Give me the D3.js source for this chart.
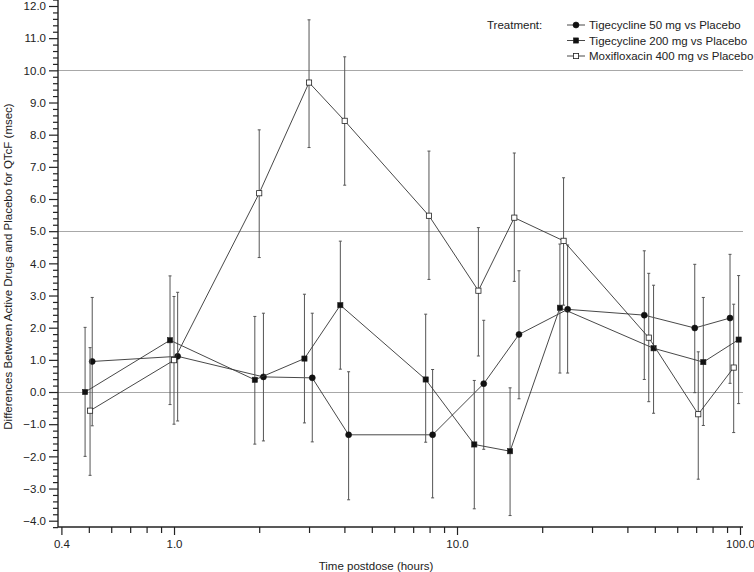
<!DOCTYPE html>
<html>
<head>
<meta charset="utf-8">
<script src="https://cdn.jsdelivr.net/npm/d3@7"></script>
<style>
  html, body { margin: 0; padding: 0; background: #fff; }
  svg { display: block; }
  text { font-family: "Liberation Sans", Arial, Helvetica, sans-serif; fill: #222; }
</style>
</head>
<body>
<svg id="chart" width="754" height="572"></svg>
<script>
// ---------------- data ----------------
const seriesNames = ["Tigecycline 50 mg vs Placebo", "Tigecycline 200 mg vs Placebo", "Moxifloxacin 400 mg vs Placebo"];

const tige50Time  = [0.514, 1.03, 2.07, 3.08, 4.14, 8.2, 12.43, 16.56, 24.6, 45.9, 69.2, 92.2];
const tige50Mean  = [0.95, 1.11, 0.47, 0.44, -1.33, -1.33, 0.26, 1.79, 2.57, 2.39, 1.99, 2.30];
const tige50Low   = [-1.05, -0.90, -1.52, -1.55, -3.35, -3.29, -1.78, -0.21, 0.59, 0.39, -0.02, 0.27];
const tige50High  = [2.94, 3.10, 2.45, 2.45, 0.63, 0.70, 2.23, 3.77, 4.57, 4.39, 3.97, 4.28];

const tige200Time = [0.485, 0.968, 1.93, 2.89, 3.87, 7.75, 11.51, 15.4, 23.1, 49.5, 74.2, 98.9];
const tige200Mean = [0.00, 1.61, 0.38, 1.04, 2.70, 0.39, -1.63, -1.84, 2.62, 1.36, 0.93, 1.63];
const tige200Low  = [-2.00, -0.39, -1.62, -0.96, 0.71, -1.56, -3.63, -3.84, 0.59, -0.66, -1.04, -0.36];
const tige200High = [2.01, 3.61, 2.35, 3.04, 4.69, 2.42, 0.36, 0.13, 4.60, 3.32, 2.94, 3.62];

const moxiTime    = [0.505, 1.0, 2.0, 3.0, 4.01, 7.96, 11.9, 15.94, 23.8, 47.6, 71.2, 95.0];
const moxiMean    = [-0.58, 0.99, 6.18, 9.62, 8.43, 5.48, 3.15, 5.42, 4.70, 1.69, -0.69, 0.76];
const moxiLow     = [-2.59, -1.00, 4.18, 7.60, 6.43, 3.50, 1.12, 3.44, 2.70, -0.30, -2.71, -1.26];
const moxiHigh    = [1.38, 2.97, 8.15, 11.57, 10.42, 7.49, 5.11, 7.43, 6.66, 3.69, 1.25, 2.73];

const yMajorTicks = [-4, -3, -2, -1, 0, 1, 2, 3, 4, 5, 6, 7, 8, 9, 10, 11, 12];
const xLabelTicks = [0.4, 1, 10, 100];
const xMinorTicks = [0.5, 0.6, 0.7, 0.8, 0.9, 2, 3, 4, 5, 6, 7, 8, 9, 20, 30, 40, 50, 60, 70, 80, 90];
const refLines = [0, 5, 10];

// ---------------- layout ----------------
const svg = d3.select("#chart");
const axisX0 = 58, axisX1 = 743, axisY = 527, axisTop = 0;

const x = d3.scaleLog().domain([0.4, 100]).range([61.4, 740]);
const y = d3.scaleLinear().domain([-4, 12]).range([520.7, 6]);

const fmt = d3.format(".1f");

// reference lines
svg.append("g").selectAll("line").data(refLines).join("line")
  .attr("x1", axisX0).attr("x2", axisX1)
  .attr("y1", d => Math.round(y(d)) + 0.5).attr("y2", d => Math.round(y(d)) + 0.5)
  .attr("stroke", "#a8a8a8").attr("stroke-width", 1);

// y axis (major + minor)
const yMinor = d3.range(-4.2, 12.2001, 0.2).map(v => +v.toFixed(1)).filter(v => !yMajorTicks.includes(v));
const gy = svg.append("g").attr("transform", `translate(${axisX0},0)`);
gy.call(d3.axisLeft(y).tickValues(yMajorTicks).tickSize(9).tickPadding(3).tickFormat(fmt))
  .call(g => g.select(".domain").remove());
gy.append("g").call(d3.axisLeft(y).tickValues(yMinor).tickSize(5).tickFormat(""))
  .call(g => g.select(".domain").remove());
gy.selectAll("line").attr("stroke", "#222").attr("stroke-width", 1.2);
gy.selectAll("text").attr("font-size", 11.5).attr("fill", "#222")
  .style("font-family", '"Liberation Sans", Arial, sans-serif');

// x axis (labelled + minor)
const gx = svg.append("g").attr("transform", `translate(0,${axisY})`);
gx.call(d3.axisBottom(x).tickValues(xLabelTicks).tickSize(8).tickPadding(5).tickFormat(d => d === 0.4 ? "0.4" : fmt(d)))
  .call(g => g.select(".domain").remove());
gx.append("g").call(d3.axisBottom(x).tickValues(xMinorTicks).tickSize(6).tickFormat(""))
  .call(g => g.select(".domain").remove());
gx.selectAll("line").attr("stroke", "#222").attr("stroke-width", 1.2);
gx.selectAll("text").attr("font-size", 11.5).attr("fill", "#222")
  .style("font-family", '"Liberation Sans", Arial, sans-serif');

// axis lines
svg.append("line").attr("x1", axisX0).attr("x2", axisX0).attr("y1", axisTop).attr("y2", axisY)
  .attr("stroke", "#222").attr("stroke-width", 1.4);
svg.append("line").attr("x1", axisX0).attr("x2", axisX1).attr("y1", axisY).attr("y2", axisY)
  .attr("stroke", "#222").attr("stroke-width", 1.4);

// axis titles
svg.append("text").attr("x", 376).attr("y", 570)
  .attr("text-anchor", "middle").attr("font-size", 11.5).text("Time postdose (hours)");
svg.append("text").attr("transform", `translate(12,${(axisTop + axisY) / 2 + 3}) rotate(-90)`)
  .attr("text-anchor", "middle").attr("font-size", 11.5)
  .text("Differences Between Active Drugs and Placebo for QTcF (msec)");

// series
const series = [
  { name: seriesNames[0], t: tige50Time, m: tige50Mean, lo: tige50Low, hi: tige50High, shape: "circle", fill: "#111" },
  { name: seriesNames[1], t: tige200Time, m: tige200Mean, lo: tige200Low, hi: tige200High, shape: "square", fill: "#111" },
  { name: seriesNames[2], t: moxiTime, m: moxiMean, lo: moxiLow, hi: moxiHigh, shape: "square", fill: "#fff" }
];

const line = d3.line().x(d => x(d.t)).y(d => y(d.m));

function drawMarker(g, s, cx, cy) {
  if (s.shape === "circle") {
    g.append("circle").attr("cx", cx).attr("cy", cy).attr("r", 3)
      .attr("fill", s.fill).attr("stroke", "#111").attr("stroke-width", 0.6);
  } else {
    g.append("rect").attr("x", cx - 2.6).attr("y", cy - 2.6).attr("width", 5.2).attr("height", 5.2)
      .attr("fill", s.fill).attr("stroke", "#222").attr("stroke-width", s.fill === "#fff" ? 0.8 : 0.6);
  }
}

series.forEach(s => {
  const pts = s.t.map((t, i) => ({ t, m: s.m[i], lo: s.lo[i], hi: s.hi[i] }));
  const g = svg.append("g");
  // error bars
  const eb = g.append("g").attr("stroke", "#555").attr("stroke-width", 1);
  eb.selectAll("line.v").data(pts).join("line").attr("class", "v")
    .attr("x1", d => x(d.t)).attr("x2", d => x(d.t))
    .attr("y1", d => y(d.lo)).attr("y2", d => y(d.hi));
  eb.selectAll("line.ct").data(pts).join("line").attr("class", "ct")
    .attr("x1", d => x(d.t) - 1.5).attr("x2", d => x(d.t) + 1.5)
    .attr("y1", d => y(d.hi)).attr("y2", d => y(d.hi));
  eb.selectAll("line.cb").data(pts).join("line").attr("class", "cb")
    .attr("x1", d => x(d.t) - 1.5).attr("x2", d => x(d.t) + 1.5)
    .attr("y1", d => y(d.lo)).attr("y2", d => y(d.lo));
  // connecting line
  g.append("path").datum(pts).attr("d", line)
    .attr("fill", "none").attr("stroke", "#333").attr("stroke-width", 0.9);
  s.g = g; s.pts = pts;
});
series.forEach(s => {
  s.pts.forEach(d => drawMarker(s.g, s, x(d.t), y(d.m)));
});

// legend
const lg = svg.append("g");
lg.append("text").attr("x", 487).attr("y", 25).attr("dy", "0.35em").attr("font-size", 11.5).text("Treatment:");
const rowY = [25, 40.5, 56];
series.forEach((s, i) => {
  const yy = rowY[i];
  lg.append("line").attr("x1", 567).attr("x2", 585).attr("y1", yy).attr("y2", yy)
    .attr("stroke", "#333").attr("stroke-width", 0.9);
  drawMarker(lg, s, 576, yy);
  lg.append("text").attr("x", 589).attr("y", yy).attr("dy", "0.35em").attr("font-size", 11.5).text(s.name);
});
</script>
</body>
</html>
